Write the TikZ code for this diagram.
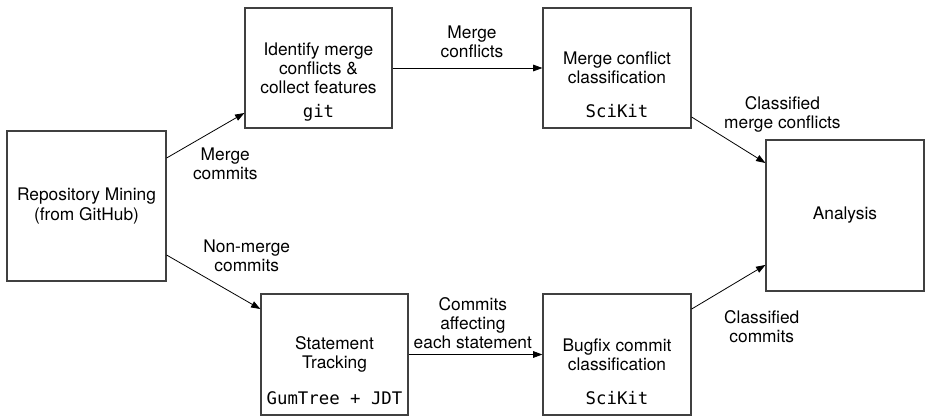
\documentclass[tikz,border=0pt]{standalone}
\usepackage{fontspec}
\setmainfont{TeX Gyre Heros}
\setmonofont{DejaVu Sans Mono}
\usepackage{tikz}
\usetikzlibrary{arrows.meta,shadows}

\begin{document}
\begin{tikzpicture}[x=0.75pt, y=-0.75pt, ->, >={Triangle[length=7pt,width=5pt]}, semithick,
  font=\fontsize{13}{14.3}\selectfont,
  box/.style={draw=black!75, line width=0.9pt, fill=white, align=center, inner sep=2pt,
    drop shadow={shadow xshift=0.7pt, shadow yshift=-0.7pt, fill=black!50, opacity=0.4}},
  tool/.style={anchor=base, yshift=8.25pt, font=\ttfamily\fontsize{13}{14.3}\selectfont},
  lbl/.style={align=center, inner sep=2pt}]

\useasboundingbox (0,0) rectangle (925,415);

\node [box, minimum width=119.25pt, minimum height=112.5pt] (repo) at (86.5,206) {Repository Mining\\(from GitHub)};
\node [box, minimum width=110.25pt, minimum height=90pt, label={[tool, name=gitlbl]south:git}] (ident) at (318.5,68) {Identify merge\\conflicts \&\\collect features};
\node [box, minimum width=111pt, minimum height=90pt, label={[tool, name=scikitlbl]south:SciKit}] (mergecls) at (617,68) {Merge conflict\\classification};
\node [box, minimum width=110.25pt, minimum height=90.75pt, label={[tool, name=gumlbl]south:GumTree + JDT}] (stmt) at (334.5,354.5) {Statement\\Tracking};
\node [box, minimum width=111pt, minimum height=90.75pt, label={[tool, name=scikitlbltwo]south:SciKit}] (bugfix) at (617,354.5) {Bugfix commit\\classification};
\node [box, minimum width=118.5pt, minimum height=113.25pt] (analysis) at (845,215.5) {Analysis};

\path
([yshift=36pt]repo.east) edge node [lbl, pos=0.3, anchor=north west] {Merge\\commits} ([yshift=-33.75pt]ident.west)
([yshift=-36.75pt]repo.east) edge node [lbl, pos=0.36, anchor=south west] {Non-merge\\commits} ([yshift=34.1pt]stmt.west)

(ident) edge node [lbl, pos=0.53, above=5.5pt] {Merge\\conflicts} (mergecls)
(stmt) edge node [lbl, pos=0.48, above=2pt] {Commits\\affecting\\each statement} (bugfix)

([yshift=-36.75pt]mergecls.east) edge node [lbl, pos=0.4, anchor=south west] {Classified\\merge conflicts} ([yshift=39.4pt]analysis.west)
([yshift=34.1pt]bugfix.east) edge node [lbl, pos=0.4, anchor=north west, yshift=-12pt] {Classified\\commits} ([yshift=-37.1pt]analysis.west);
\end{tikzpicture}
\end{document}
